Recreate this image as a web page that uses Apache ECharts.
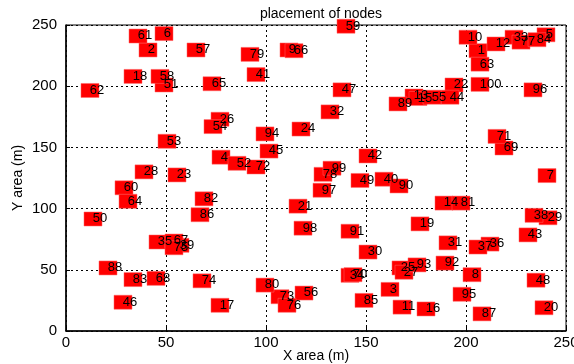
<!DOCTYPE html>
<html>
<head>
<meta charset="utf-8">
<script src="https://cdn.jsdelivr.net/npm/echarts@6/dist/echarts.min.js"></script>
<style>html,body{margin:0;padding:0;background:#fff}#c{width:574px;height:364px}</style>
</head>
<body>
<div id="c"></div>
<script>
var nodeIds = [];
for (var i = 1; i <= 100; i++) nodeIds.push(i);
var xs = [206,41,162,77.5,240,49,240.5,203,111.5,201,
          168,215,174,189,176,180,77,33.5,177,239,
          116,194,55.5,117.5,167.5,77,169,39,241,151,
          191,132,224,142,46,212,206,234,57,159,
          95,151,231,192,101.5,28.5,138,235,147,13.5,
          49,85.5,50.5,73.5,183,119,65,47,140,29,
          36,12,207,31,73,114,54,45,219,143.5,
          215.5,95,107,68,54,110.5,227.5,128.5,92,99.5,
          197.5,69,33.5,235.5,149,67,208,21,166,166.5,
          142,189.5,175.5,99.5,198,233.5,128,118.5,133,207];
var ys = [229,229.6,34,142,242,243,127,46,229.6,240,
          19.5,234.5,192,104.5,190,18,21,208,87.5,19,
          102,201,127.5,165,51.5,173,48,130,92.5,64.5,
          72,179,240,45.5,72.7,71,68.6,94.5,70,124,
          209.5,143,78.5,191,147,23.5,197,41.5,123,91.5,
          201,137,155,167,191,31,229.6,208,249,117,
          241,196.5,218,106,202,229,73.5,43,149.5,46,
          159,134,28,41,68,21,236,128,226,37.5,
          104.5,108,42,238,25,95,14,51.5,185.5,118.5,
          81.5,55.5,54,161,30,197,115,84,133,201.5];
var xTicks = [0,50,100,150,200,250];
var yTicks = [0,50,100,150,200,250];

var data = nodeIds.map(function(id, k){ return [xs[k], ys[k], id]; });
var font = 'Liberation Sans, Arial, sans-serif';
var chart = echarts.init(document.getElementById('c'));
chart.setOption({
  animation: false,
  backgroundColor: '#fff',
  title: {
    text: 'placement of nodes', left: 316, top: 2, textAlign: 'center',
    textStyle: {fontFamily: font, fontSize: 14, fontWeight: 'normal', color: '#000'}
  },
  grid: {left: 66, right: 8, top: 25, bottom: 33, show: true, borderColor: '#000', borderWidth: 1,
         backgroundColor: '#fff', containLabel: false, outerBoundsMode: 'none'},
  xAxis: {
    type: 'value', min: xTicks[0], max: xTicks[xTicks.length-1], interval: 50,
    name: 'X area (m)', nameLocation: 'middle', nameGap: 25, nameMoveOverlap: false,
    nameTextStyle: {fontFamily: font, fontSize: 14, color: '#000', verticalAlign: 'middle'},
    axisLine: {show: true, lineStyle: {color: '#000', width: 1.5}},
    axisTick: {show: true, inside: true, length: 4, lineStyle: {color: '#000'}},
    axisLabel: {fontFamily: font, fontSize: 15, color: '#000', margin: 4, showMaxLabel: true},
    splitLine: {show: true, lineStyle: {color: '#000', type: [2, 3], width: 1}}
  },
  yAxis: {
    type: 'value', min: yTicks[0], max: yTicks[yTicks.length-1], interval: 50,
    name: 'Y area (m)', nameLocation: 'middle', nameGap: 48, nameMoveOverlap: false,
    nameTextStyle: {fontFamily: font, fontSize: 14, color: '#000', verticalAlign: 'middle'},
    axisLine: {show: true, lineStyle: {color: '#000', width: 1.5}},
    axisTick: {show: true, inside: true, length: 4, lineStyle: {color: '#000'}},
    axisLabel: {fontFamily: font, fontSize: 15, color: '#000', margin: 9},
    splitLine: {show: true, lineStyle: {color: '#000', type: [2, 3], width: 1}}
  },
  series: [{
    type: 'scatter',
    data: data,
    symbol: 'rect',
    symbolSize: [18, 14],
    clip: false,
    itemStyle: {color: '#ff0000', borderColor: '#ff6666', borderWidth: 0.5, opacity: 1},
    label: {
      show: true,
      formatter: function(p){ return String(p.value[2]); },
      position: [9, 7], align: 'left', verticalAlign: 'middle',
      fontFamily: font, fontSize: 13, color: '#000'
    }
  }]
});
</script>
</body>
</html>
